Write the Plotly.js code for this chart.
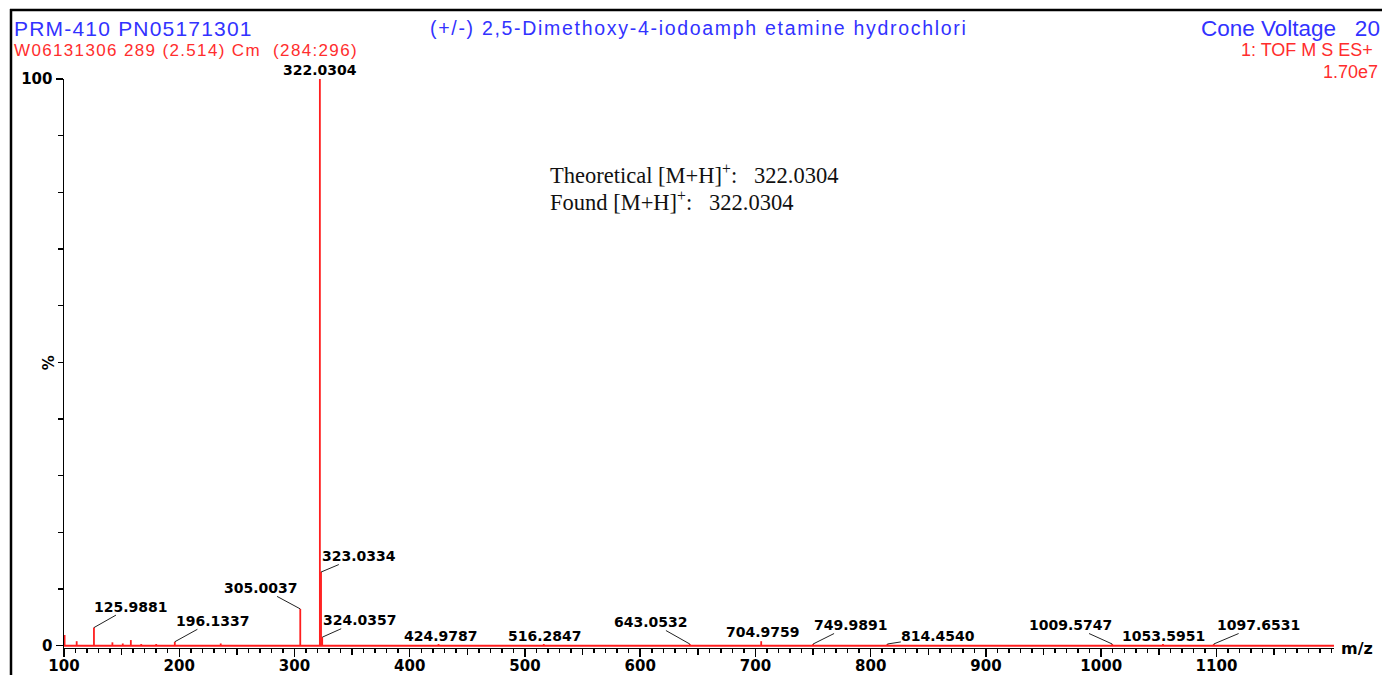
<!DOCTYPE html>
<html>
<head>
<meta charset="utf-8">
<script src="https://cdn.plot.ly/plotly-3.0.1.min.js"></script>
<style>html,body{margin:0;padding:0;background:#fff;}#chart{width:1382px;height:675px;}</style>
</head>
<body>
<div id="chart"></div>
<script>
// ---- data ----
const peakMz = [100.5, 111, 125.9881, 142, 151, 158, 167, 180, 196.1337, 236,
  305.0037, 322.0304, 323.0334, 324.0357, 424.9787, 516.2847, 643.0532,
  704.9759, 749.9891, 814.4540, 1009.5747, 1053.5951, 1097.6531];
const peakIntensity = [1.9, 0.8, 3.2, 0.6, 0.4, 1.0, 0.3, 0.3, 0.7, 0.4,
  6.5, 100, 13, 1.5, 0.3, 0.3, 0.3,
  0.8, 0.3, 0.3, 0.3, 0.3, 0.3];
const labelledMz = [125.9881, 196.1337, 305.0037, 322.0304, 323.0334, 324.0357,
  424.9787, 516.2847, 643.0532, 704.9759, 749.9891, 814.4540,
  1009.5747, 1053.5951, 1097.6531];
const labelText = ['125.9881', '196.1337', '305.0037', '322.0304', '323.0334', '324.0357',
  '424.9787', '516.2847', '643.0532', '704.9759', '749.9891', '814.4540',
  '1009.5747', '1053.5951', '1097.6531'];
const xTickValues = [100, 200, 300, 400, 500, 600, 700, 800, 900, 1000, 1100];
const xMidTickValues = [150, 250, 350, 450, 550, 650, 750, 850, 950, 1050, 1150];
const baselineMz = [100, 1202];

// ---- label placement (pixel offsets of the label from the peak top) ----
const labelDx = [37, 38, -39, 0, 38, 38, 2, 1, -39, 2, 38, 51, -42, 1, 45];
const labelDy = [-21, -21, -21, -9, -16, -17, -8, -8, -22, -9, -19, -8, -19, -8, -19];
const labelLeader = [1, 1, 1, 0, 1, 1, 0, 0, 1, 0, 1, 1, 1, 0, 1];

// ---- geometry helpers ----
const W = 1382, H = 675, ML = 64, MR = 48, MT = 79, MB = 27;
const pxX = p => (p - ML) / (W - ML - MR);
const pxY = p => (H - MB - p) / (H - MT - MB);

// stick spectrum built from data arrays
const sx = [], sy = [];
peakMz.forEach((m, i) => { sx.push(m, m, null); sy.push(0, peakIntensity[i], null); });

const red = 'rgb(255,30,30)';
const blue = 'rgb(50,50,255)';
const hdrRed = 'rgb(255,45,45)';

const traces = [
  {x: baselineMz, y: [0, 0], mode: 'lines', line: {color: red, width: 2}, hoverinfo: 'skip', showlegend: false},
  {x: sx, y: sy, mode: 'lines', line: {color: red, width: 1.8}, hoverinfo: 'skip', showlegend: false, connectgaps: false}
];

const labelFont = {family: 'DejaVu Sans', size: 14, color: '#000', weight: 'bold'};
const annotations = [];
labelledMz.forEach((m, i) => {
  const h = peakIntensity[peakMz.indexOf(m)];
  if (labelLeader[i]) {
    annotations.push({x: m, y: h, xref: 'x', yref: 'y', text: labelText[i], showarrow: true,
      ax: labelDx[i], ay: labelDy[i], arrowhead: 0, arrowwidth: 1, arrowcolor: '#222',
      standoff: 0, startstandoff: 0, font: labelFont, borderpad: 0});
  } else {
    annotations.push({x: m, y: h, xref: 'x', yref: 'y', text: labelText[i], showarrow: false,
      xanchor: 'center', yanchor: 'middle', xshift: labelDx[i], yshift: -labelDy[i], font: labelFont, borderpad: 0});
  }
});

const hdr = (text, x, y, anchor, size, color, fam) => ({
  text, x: pxX(x), y: pxY(y), xref: 'paper', yref: 'paper', xanchor: anchor, yanchor: 'middle',
  align: anchor === 'right' ? 'right' : 'left', borderpad: 0,
  showarrow: false, font: {family: fam || 'Liberation Sans, Arial', size, color}
});
const TITLE1 = 'PRM-410 PN05171301';
const TITLE2 = 'W06131306 289 (2.514) Cm  (284:296)';
const TITLE3 = '(+/-) 2,5-Dimethoxy-4-iodoamph etamine hydrochlori';
annotations.push(hdr(TITLE1, 13, 28, 'left', 21, blue));
annotations.push(hdr(TITLE2, 13, 50, 'left', 17, hdrRed));
annotations.push(hdr(TITLE3, 429, 28, 'left', 19.5, blue));
annotations.push(hdr('Cone Voltage   20', 1381, 28, 'right', 22.5, blue));
annotations.push(hdr('1: TOF M S ES+', 1374, 50, 'right', 18, hdrRed));
annotations.push(hdr('1.70e7', 1379, 72, 'right', 18, hdrRed));
annotations.push(hdr('Theoretical [M+H]<sup>+</sup>:   322.0304', 549, 174, 'left', 22.5, '#111', 'Liberation Serif, Times New Roman'));
annotations.push(hdr('Found [M+H]<sup>+</sup>:   322.0304', 549, 201, 'left', 22.5, '#111', 'Liberation Serif, Times New Roman'));
annotations.push(hdr('m/z', 1340, 648, 'left', 16, '#000', 'DejaVu Sans'));
annotations[annotations.length - 1].font.weight = 'bold';
annotations.push({text: '%', x: pxX(47), y: 50, xref: 'paper', yref: 'y', showarrow: false, textangle: 90,
  xanchor: 'center', yanchor: 'middle', font: {family: 'DejaVu Sans', size: 15, color: '#000', weight: 'bold'}});

const tickFont = {family: 'DejaVu Sans', size: 15, color: '#000', weight: 'bold'};
const overlayAxis = (vals, len) => ({
  range: [100, 1202], overlaying: 'x', anchor: 'y', side: 'bottom', tickvals: vals,
  showticklabels: false, showgrid: false, zeroline: false, showline: false,
  ticks: 'outside', ticklen: len, tickwidth: 1.5, tickcolor: '#000', automargin: false, fixedrange: true
});

const layout = {
  width: W, height: H,
  margin: {l: ML, r: MR, t: MT, b: MB, pad: 0},
  paper_bgcolor: '#fff', plot_bgcolor: '#fff',
  showlegend: false,
  xaxis: {
    range: [100, 1202], tickvals: xTickValues, ticktext: xTickValues.map(String),
    showgrid: false, zeroline: false, showline: true, linecolor: '#000', linewidth: 1,
    ticks: 'outside', ticklen: 3.5, tickwidth: 1.5, tickcolor: '#000', tickfont: tickFont,
    minor: {dtick: 10, tick0: 100, ticks: 'outside', ticklen: 3.5, tickwidth: 1.5, tickcolor: '#000', showgrid: false},
    automargin: false, fixedrange: true
  },
  xaxis2: overlayAxis(xTickValues, 8),
  xaxis3: overlayAxis(xMidTickValues, 6),
  yaxis: {
    range: [-0.4, 100], tickvals: [0, 100], ticktext: ['0', '100'],
    showgrid: false, zeroline: false, showline: true, linecolor: '#000', linewidth: 1.5,
    ticks: 'outside', ticklen: 7, tickwidth: 1.5, tickcolor: '#000', tickfont: tickFont,
    minor: {dtick: 10, tick0: 0, ticks: 'outside', ticklen: 5, tickwidth: 1.5, tickcolor: '#000', showgrid: false},
    automargin: false, fixedrange: true
  },
  annotations,
  shapes: [
    {type: 'line', xref: 'paper', yref: 'paper', x0: pxX(11), x1: pxX(11), y0: pxY(9), y1: pxY(676), line: {color: '#000', width: 2.5}},
    {type: 'line', xref: 'paper', yref: 'paper', x0: pxX(10), x1: pxX(1383), y0: pxY(10), y1: pxY(10), line: {color: '#000', width: 2.5}}
  ]
};

// invisible traces to activate the overlay tick axes
traces.push({x: [100], y: [0], xaxis: 'x2', mode: 'markers', marker: {opacity: 0}, hoverinfo: 'skip', showlegend: false});
traces.push({x: [100], y: [0], xaxis: 'x3', mode: 'markers', marker: {opacity: 0}, hoverinfo: 'skip', showlegend: false});

// the instrument header uses a letter-spaced font
const spacing = {};
spacing[TITLE1] = '1.2px';
spacing[TITLE2] = '1.35px';
spacing[TITLE3] = '1.7px';

Plotly.newPlot('chart', traces, layout, {displayModeBar: false, staticPlot: true}).then(() => {
  document.querySelectorAll('#chart .annotation-text').forEach(t => {
    const s = spacing[t.textContent];
    if (s) t.style.letterSpacing = s;
  });
});
</script>
</body>
</html>
